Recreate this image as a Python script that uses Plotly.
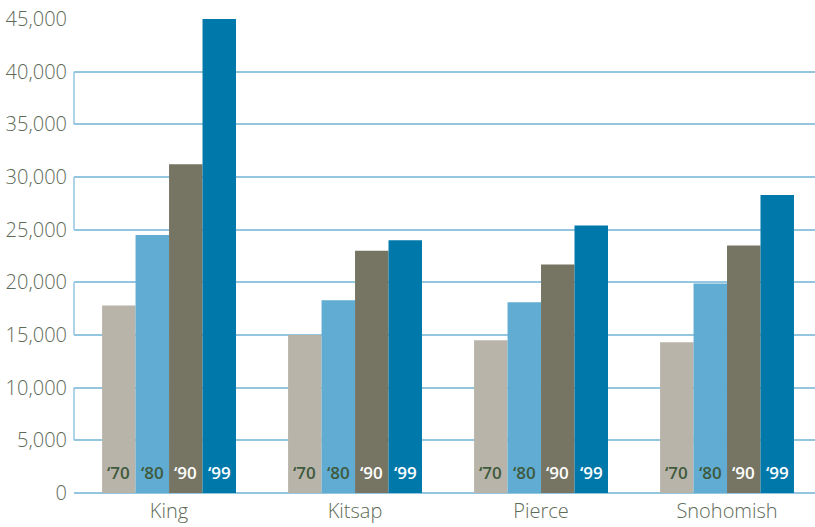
import plotly.graph_objects as go

counties = ["King", "Kitsap", "Pierce", "Snohomish"]
years = ["\u201870", "\u201880", "\u201890", "\u201899"]
values = {
    "\u201870": [17800, 15000, 14500, 14300],
    "\u201880": [24500, 18300, 18100, 19900],
    "\u201890": [31200, 23000, 21700, 23500],
    "\u201899": [45000, 24000, 25400, 28300],
}
bar_colors = ["#b8b4aa", "#60acd3", "#767563", "#0078aa"]
label_colors = ["#3f5a3c", "#3f5a3c", "#ffffff", "#ffffff"]
y_ticks = [0, 5000, 10000, 15000, 20000, 25000, 30000, 35000, 40000, 45000]

GRID = "#94c6e0"
TXT = "#5e6a58"

fig = go.Figure()
for i, yr in enumerate(years):
    fig.add_trace(go.Bar(
        x=counties, y=values[yr], name=yr,
        marker=dict(color=bar_colors[i], line=dict(width=0)),
        showlegend=False,
    ))

bar_px = 186 * 0.72 / 4
annotations = []
for ci, c in enumerate(counties):
    for i, yr in enumerate(years):
        annotations.append(dict(
            x=c, y=0, xref="x", yref="y", text=yr, showarrow=False,
            xshift=(i - 1.5) * bar_px, yshift=7, yanchor="bottom",
            font=dict(family="Open Sans", size=17, color=label_colors[i], weight=600),
        ))

shapes = []
for a, b in [(40000, 35000), (30000, 25000), (20000, 15000), (10000, 5000)]:
    shapes.append(dict(type="line", xref="paper", yref="y", x0=0, x1=0, y0=a, y1=b,
                       line=dict(color=GRID, width=1.5), layer="below"))

fig.update_layout(
    width=815, height=527,
    margin=dict(l=74, r=0, t=19, b=34),
    paper_bgcolor="white", plot_bgcolor="white",
    barmode="group", bargap=0.28, bargroupgap=0,
    annotations=annotations, shapes=shapes,
    font=dict(family="Open Sans", color=TXT),
    xaxis=dict(range=[-0.511, 3.473], showgrid=False, showline=False, ticks="",
               ticklabelstandoff=4,
               tickfont=dict(family="Open Sans", size=20, color=TXT, weight=300)),
    yaxis=dict(range=[0, 45000], tickvals=y_ticks, tickformat=",",
               showgrid=True, gridcolor=GRID, gridwidth=1.5,
               zeroline=True, zerolinecolor=GRID, zerolinewidth=1.5,
               showline=False, ticks="", ticklabelstandoff=6,
               tickfont=dict(family="Open Sans", size=20, color=TXT, weight=300)),
)
fig.write_html("out.html")
